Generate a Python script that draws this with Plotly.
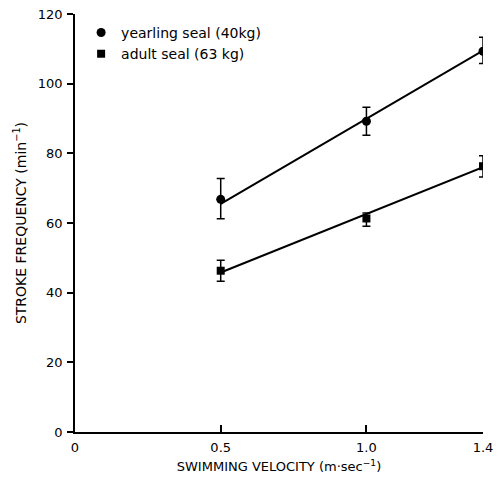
import plotly.graph_objects as go

velocity = [0.5, 1.0, 1.4]
yearling_freq = [66.8, 89.2, 109.3]
yearling_err_plus = [6.0, 4.0, 4.0]
yearling_err_minus = [5.6, 4.0, 3.5]
adult_freq = [46.3, 61.3, 76.3]
adult_err_plus = [3.0, 1.6, 3.0]
adult_err_minus = [3.0, 2.2, 3.1]
fit_x = [0.5, 1.4]
yearling_fit = [65.5, 109.5]
adult_fit = [45.8, 76.0]
x_ticks = [0, 0.5, 1.0, 1.4]
x_tick_labels = ["0", "0.5", "1.0", "1.4"]
y_ticks = [0, 20, 40, 60, 80, 100, 120]

font_family = "DejaVu Sans, Liberation Sans, sans-serif"

fig = go.Figure()
fig.add_trace(go.Scatter(x=fit_x, y=yearling_fit, mode="lines",
                         line=dict(color="black", width=2), showlegend=False, hoverinfo="skip"))
fig.add_trace(go.Scatter(x=fit_x, y=adult_fit, mode="lines",
                         line=dict(color="black", width=2), showlegend=False, hoverinfo="skip"))
fig.add_trace(go.Scatter(
    x=velocity, y=yearling_freq, mode="markers", name="yearling seal (40kg)",
    marker=dict(symbol="circle", size=9, color="black"),
    error_y=dict(type="data", array=yearling_err_plus, arrayminus=yearling_err_minus,
                 color="black", thickness=1.5, width=4)))
fig.add_trace(go.Scatter(
    x=velocity, y=adult_freq, mode="markers", name="adult seal (63 kg)",
    marker=dict(symbol="square", size=8, color="black"),
    error_y=dict(type="data", array=adult_err_plus, arrayminus=adult_err_minus,
                 color="black", thickness=1.5, width=4)))

fig.update_layout(
    width=494, height=473,
    margin=dict(l=67, r=19, t=6, b=49, autoexpand=False),
    paper_bgcolor="white", plot_bgcolor="white",
    font=dict(family=font_family, size=14, color="black"),
    legend=dict(x=0.015, y=0.993, xanchor="left", yanchor="top",
                bgcolor="rgba(0,0,0,0)", font=dict(size=14), tracegroupgap=0,
                itemwidth=30),
    xaxis=dict(range=[0, 1.4], tickvals=x_ticks, ticktext=x_tick_labels, automargin=False,
               showgrid=False, zeroline=False, showline=True, linecolor="black",
               linewidth=1.5, ticks="inside", ticklen=7, tickwidth=1.5, tickcolor="black",
               tickfont=dict(size=13), ticklabelstandoff=3, ticklabeloverflow="allow",
               title=dict(text="SWIMMING VELOCITY (m·sec<sup>−1</sup>)", standoff=8,
                          font=dict(size=13))),
    yaxis=dict(range=[0, 120], tickvals=y_ticks, automargin=False,
               showgrid=False, zeroline=False, showline=True, linecolor="black",
               linewidth=1.5, ticks="outside", ticklen=6, tickwidth=1.5, tickcolor="black",
               tickfont=dict(size=13), ticklabelstandoff=2, ticklabeloverflow="allow",
               title=dict(text="STROKE FREQUENCY (min<sup>−1</sup>)", standoff=8,
                          font=dict(size=14))),
)

fig.write_html("out.html")
